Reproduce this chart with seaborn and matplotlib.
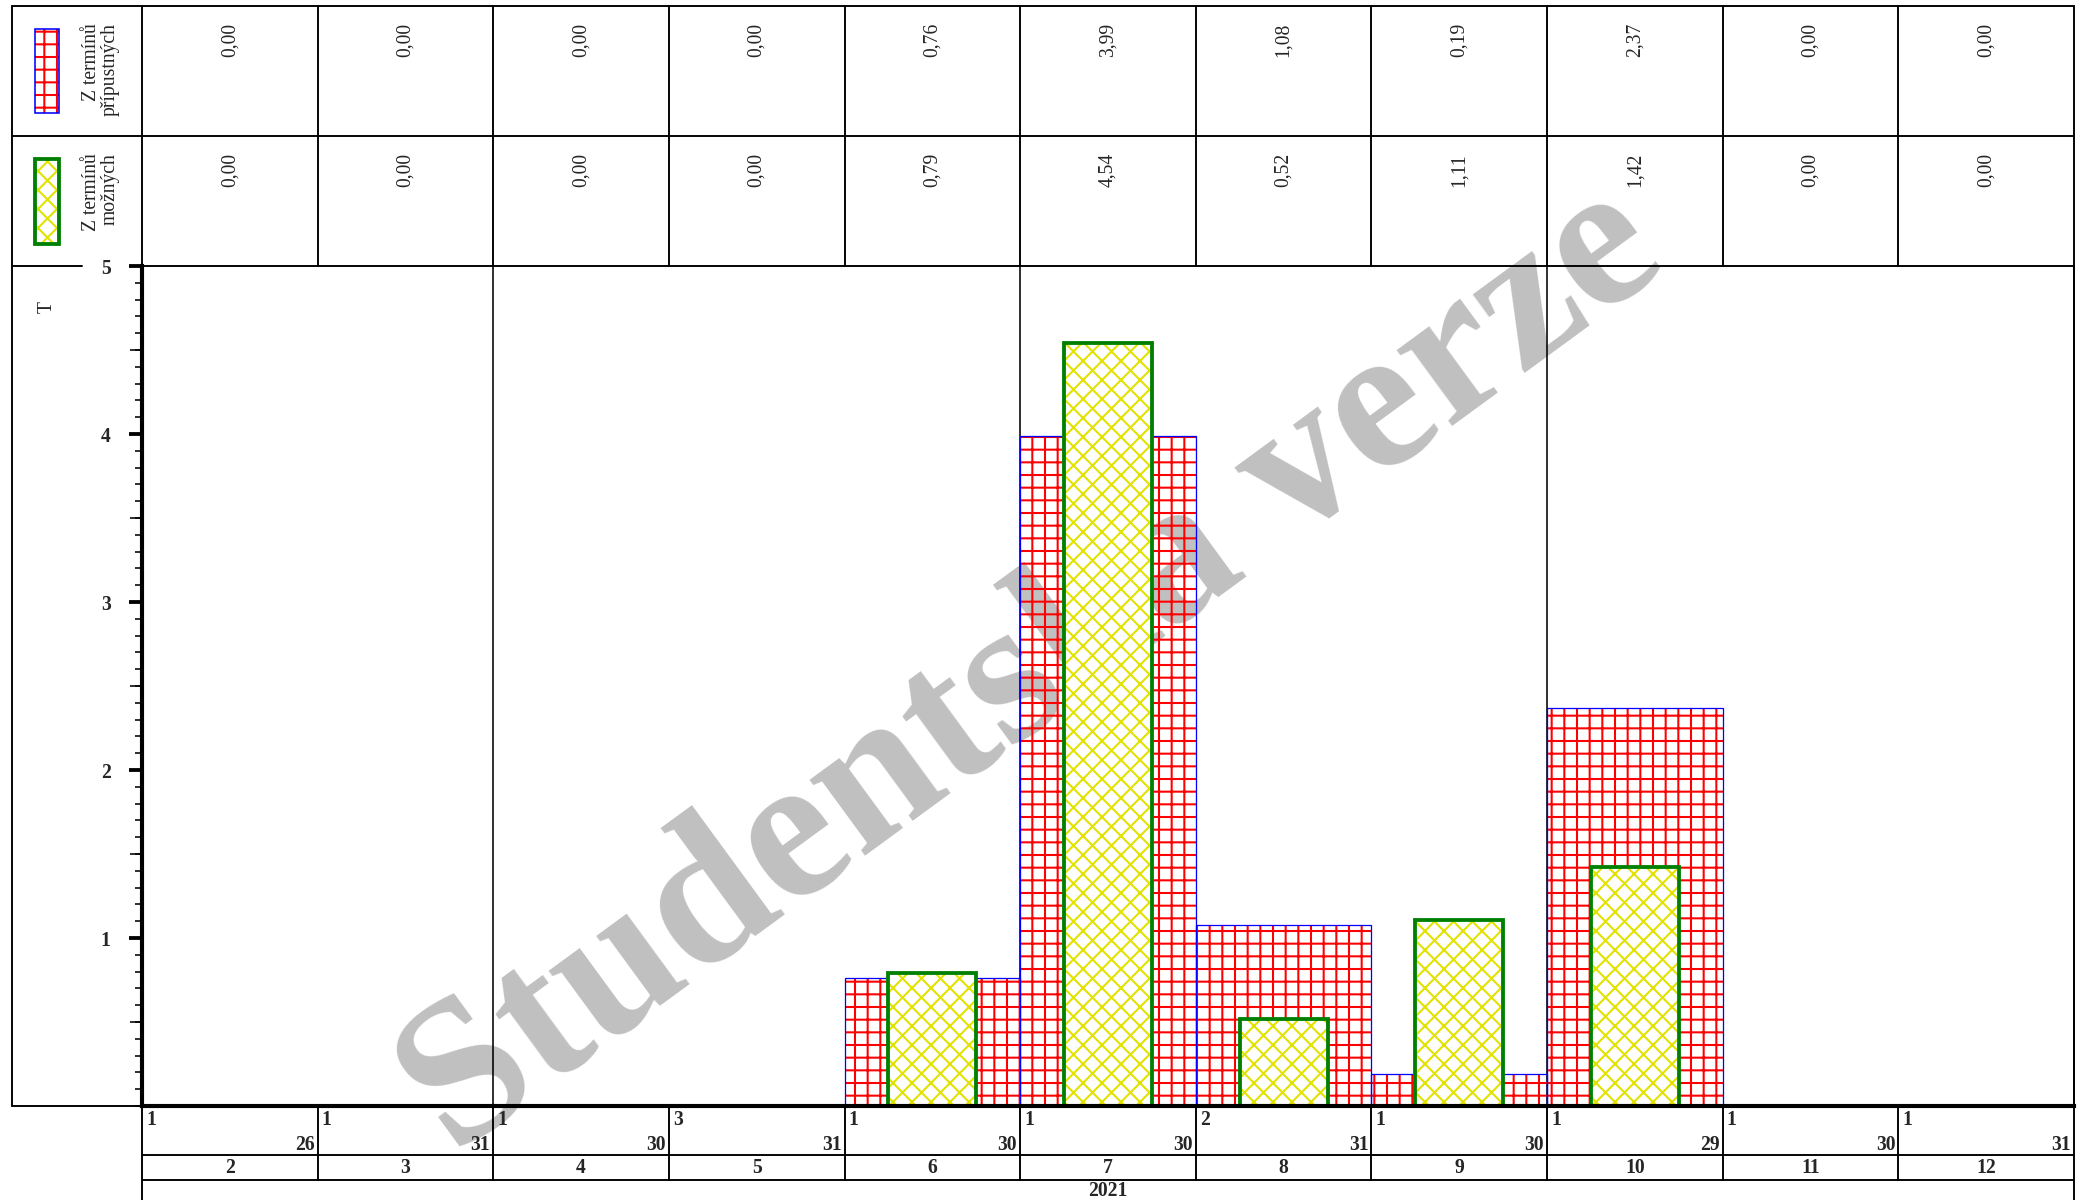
import matplotlib
matplotlib.use("Agg")
import pandas as pd
import matplotlib.pyplot as plt
import matplotlib.transforms as mtransforms
from matplotlib.patches import Rectangle
from matplotlib.ticker import MultipleLocator
import seaborn as sns

# data
mesice = ["2", "3", "4", "5", "6", "7", "8", "9", "10", "11", "12"]
prvni_den = [1, 1, 1, 3, 1, 1, 2, 1, 1, 1, 1]
posledni_den = [26, 31, 30, 31, 30, 30, 31, 30, 29, 30, 31]
pripustnych = [0.00, 0.00, 0.00, 0.00, 0.76, 3.99, 1.08, 0.19, 2.37, 0.00, 0.00]
moznych = [0.00, 0.00, 0.00, 0.00, 0.79, 4.54, 0.52, 1.11, 1.42, 0.00, 0.00]
rok = "2021"
kvartaly = ["4", "7", "10"]
y_ticks = [1, 2, 3, 4, 5]

DPI = 228.6
W, H = 2085, 1200
L, R, T, B = 142, 2074, 266, 1106   # plot area in pixels
FS = 6.2

sns.set_style("white")
plt.rcParams["font.family"] = ["Liberation Serif", "DejaVu Serif"]
plt.rcParams["hatch.linewidth"] = 0.65

CERVENA, MODRA, ZLUTA, ZELENA = "#ff0000", "#0000ff", "#e2e200", "#008000"

fig = plt.figure(figsize=((W + 0.001) / DPI, (H + 0.001) / DPI), dpi=DPI)
ax = fig.add_axes([L / W, 1 - B / H, (R - L) / W, (B - T) / H])
ax.set_facecolor("none")

df = pd.DataFrame({"mesic": mesice, "pripustnych": pripustnych, "moznych": moznych})


def bary(col, width, **kw):
    n0 = len(ax.patches)
    sns.barplot(data=df, x="mesic", y=col, order=mesice, width=width,
                errorbar=None, ax=ax, **kw)
    return ax.patches[n0:]


for p in bary("pripustnych", 1.0, color="white"):
    p.set(facecolor="none", edgecolor=CERVENA, hatch="+++", linewidth=0, zorder=2)
for p in bary("pripustnych", 1.0, fill=False, color=MODRA):
    p.set(facecolor="none", edgecolor=MODRA, linewidth=0.4, zorder=2.5)
for p in bary("moznych", 0.5, color="white"):
    p.set(facecolor="white", edgecolor=ZLUTA, hatch="xxxx", linewidth=0, zorder=3)
for p in bary("moznych", 0.5, fill=False, color=ZELENA):
    p.set(facecolor="none", edgecolor=ZELENA, linewidth=1.2, zorder=3.5)

n = len(mesice)
ax.set_xlim(-0.5, n - 0.5)
ax.set_ylim(0, 5)
ax.set_xlabel("")
ax.set_ylabel("")
ax.set_yticks(y_ticks, labels=[str(t) for t in y_ticks], fontweight="bold")
ax.yaxis.set_minor_locator(MultipleLocator(0.1))
ax.tick_params(axis="y", which="major", direction="out", left=True, length=4.1,
               width=1.2, pad=5.8, labelsize=FS, color="black")
ax.tick_params(axis="y", which="minor", direction="out", left=True, length=2.2,
               width=0.5, color="black")
ax.tick_params(axis="x", bottom=False, labelbottom=False)

# longer ticks at the halves
pul = ax.secondary_yaxis("left")
pul.set_yticks([0.5, 1.5, 2.5, 3.5, 4.5])
pul.tick_params(axis="y", direction="out", length=3.8, width=0.5, labelleft=False,
                color="black")
pul.spines["left"].set_visible(False)

for s in ["left", "bottom"]:
    ax.spines[s].set(linewidth=1.3, color="black", zorder=5)
for s in ["top", "right"]:
    ax.spines[s].set(linewidth=0.6, color="black", zorder=5)

for m in kvartaly:
    ax.axvline(mesice.index(m) - 0.5, color="black", lw=0.5, zorder=1)

# table above and below the plot
xt = ax.get_xaxis_transform()


def fy(py):
    return (B - py) / (B - T)


def svisla(x, y0, y1):
    ax.plot([x, x], [fy(y0), fy(y1)], transform=xt, clip_on=False, color="black", lw=0.6)


for k in range(n + 1):
    if k in (0, n):
        svisla(k - 0.5, 6, 1200)
    else:
        svisla(k - 0.5, 6, T)
        svisla(k - 0.5, B, 1180)

vpravo = mtransforms.offset_copy(xt, fig=fig, x=4, y=0, units="dots")
vlevo = mtransforms.offset_copy(xt, fig=fig, x=-3, y=0, units="dots")
for i in range(n):
    ax.text(i, fy(23), f"{pripustnych[i]:.2f}".replace(".", ","), rotation=90,
            ha="center", va="top", transform=xt, fontsize=FS, clip_on=False)
    ax.text(i, fy(153), f"{moznych[i]:.2f}".replace(".", ","), rotation=90,
            ha="center", va="top", transform=xt, fontsize=FS, clip_on=False)
    ax.text(i - 0.5, fy(1110), str(prvni_den[i]), ha="left", va="top", transform=vpravo,
            fontsize=FS, fontweight="bold", clip_on=False)
    ax.text(i + 0.5, fy(1155), str(posledni_den[i]), ha="right", va="bottom",
            transform=vlevo, fontsize=FS, fontweight="bold", clip_on=False)
    ax.text(i, fy(1168), mesice[i], ha="center", va="center", transform=xt,
            fontsize=FS, fontweight="bold", clip_on=False)
ax.text((n - 1) / 2, fy(1191), rok, ha="center", va="center", transform=xt,
        fontsize=FS, fontweight="bold", clip_on=False)

# overlay in pixel coordinates for the frame and the legend column
ov = fig.add_axes([0, 0, 1, 1])
ov.set_xlim(0, W)
ov.set_ylim(H, 0)
ov.set_facecolor("none")
ov.axis("off")
for y, x0, x1 in [(6, 12, R), (136, 12, R), (T, 12, 82), (B, 12, L), (1155, L, R), (1180, L, R)]:
    ov.plot([x0, x1], [y, y], color="black", lw=0.6)
ov.plot([12, 12], [6, B], color="black", lw=0.6)

ov.add_patch(Rectangle((35, 29), 24, 84, facecolor="none", edgecolor=CERVENA, hatch="+++", lw=0))
ov.add_patch(Rectangle((35, 29), 24, 84, fill=False, edgecolor=MODRA, lw=0.5))
ov.add_patch(Rectangle((35, 159), 24, 85, facecolor="white", edgecolor=ZLUTA, hatch="xxxx", lw=0))
ov.add_patch(Rectangle((35, 159), 24, 85, fill=False, edgecolor=ZELENA, lw=1.2))
ov.text(101, 23, "Z termínů\npřípustných", rotation=90, ha="center", va="top",
        multialignment="right", fontsize=FS, linespacing=1.0)
ov.text(101, 153, "Z termínů\nmožných", rotation=90, ha="center", va="top",
        multialignment="right", fontsize=FS, linespacing=1.0)
ov.text(47, 307, "T", rotation=90, ha="center", va="center", fontsize=FS)

# watermark behind the plot
fig.text(1062 / W, 1 - 712 / H, "Studentská verze", rotation=36.2, rotation_mode="anchor",
         ha="center", va="baseline", fontsize=65, fontweight="bold", color="#c0c0c0",
         zorder=-1)

fig.savefig("out.png", dpi=DPI)
